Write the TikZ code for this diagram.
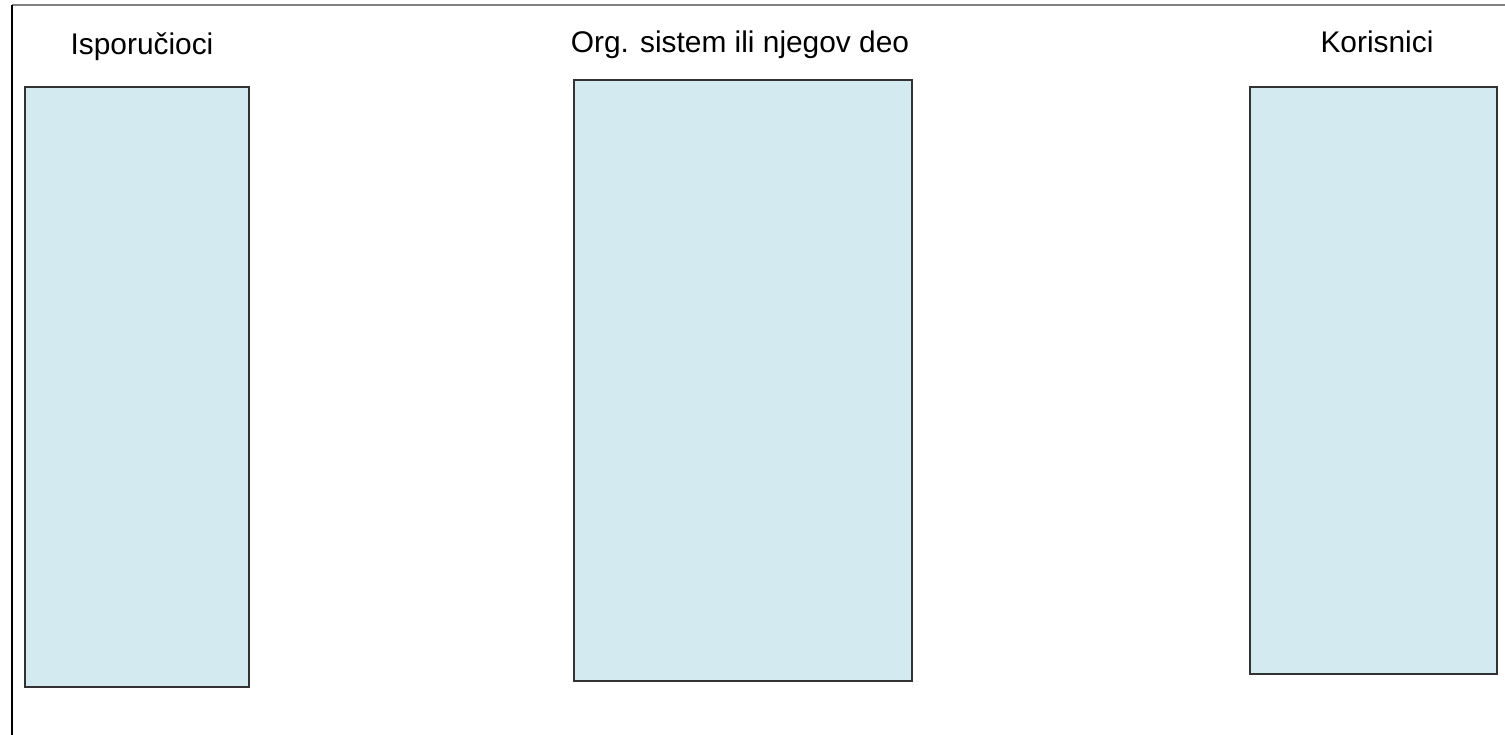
\documentclass[tikz,border=0pt]{standalone}
\usepackage{fontspec}
\setmainfont{Liberation Sans}
\definecolor{boxfill}{RGB}{210,234,240}
\definecolor{boxline}{RGB}{50,50,50}
\begin{document}
\begin{tikzpicture}
	\useasboundingbox (0, 0) rectangle (30.1, 14.7);
	% Frame:
	\coordinate (frameTL) at (0.24, 14.6);
	\coordinate (frameTR) at (30.1, 14.6);
	\coordinate (frameBL) at (0.24, 0);
	\draw[line width=1.2pt, gray] (frameTL) -- (frameTR);
	\draw[line width=1pt, black] (frameTL) -- (frameBL);
	% Boxes and labels:
	\node[shape=rectangle, draw=boxline, fill=boxfill, line width=1.1pt, minimum width=4.48cm, minimum height=12cm] (isporucioci) at (2.74, 6.96){};
	\node[shape=rectangle, draw=boxline, fill=boxfill, line width=1.1pt, minimum width=6.76cm, minimum height=12.02cm] (sistem) at (14.86, 7.09){};
	\node[shape=rectangle, draw=boxline, fill=boxfill, line width=1.1pt, minimum width=4.94cm, minimum height=11.74cm] (korisnici) at (27.47, 7.09){};
	\node[anchor=center, font=\fontsize{17}{20}\selectfont, inner sep=0pt] (isporuciociLabel) at (2.84, 13.76){Isporučioci};
	\node[anchor=center, font=\fontsize{17}{20}\selectfont, inner sep=0pt] (sistemLabel) at (14.8, 13.8){Org. sistem ili njegov deo};
	\node[anchor=center, font=\fontsize{17}{20}\selectfont, inner sep=0pt] (korisniciLabel) at (27.54, 13.86){Korisnici};
\end{tikzpicture}
\end{document}
